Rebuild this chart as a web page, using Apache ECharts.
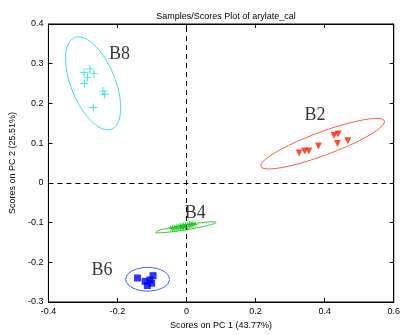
<!DOCTYPE html>
<html><head><meta charset="utf-8">
<script src="https://cdn.jsdelivr.net/npm/echarts@6/dist/echarts.min.js"></script>
<style>html,body{margin:0;padding:0;background:#fff}#c{width:403px;height:335px}</style>
</head><body><div id="c"></div>
<script>
// ---- data ----
const groupNames = ['B8', 'B2', 'B4', 'B6'];
const b8Points = [[-0.280,0.287],[-0.297,0.277],[-0.268,0.275],[-0.287,0.265],[-0.296,0.250],[-0.242,0.231],[-0.237,0.223],[-0.270,0.190]];
const b2Points = [[0.326,0.075],[0.342,0.080],[0.354,0.080],[0.382,0.093],[0.427,0.119],[0.439,0.123],[0.437,0.099],[0.467,0.106]];
const b4Points = [[-0.040,-0.115],[-0.028,-0.113],[-0.017,-0.111],[-0.003,-0.109],[0.009,-0.106],[0.019,-0.105],[-0.010,-0.110]];
const b6Points = [[-0.142,-0.2395],[-0.120,-0.248],[-0.106,-0.2445],[-0.097,-0.2336],[-0.1135,-0.2585],[-0.101,-0.2527]];
// confidence ellipses: centre and two conjugate half-axis vectors (data units)
const ellipseCenters = [[-0.2704,0.2505],[0.394,0.0986],[-0.0028,-0.112],[-0.1127,-0.2427]];
const ellipseAxisA  = [[0.0539,-0.1151],[0.1789,0.0573],[0.0887,0.01246],[0.0634,0]];
const ellipseAxisB  = [[-0.0588,-0.0216],[0.0113,-0.0277],[0.0011,-0.00615],[0,0.0299]];
const labelPositions = [[-0.194,0.3228],[0.372,0.170],[0.0254,-0.0758],[-0.245,-0.221]];
const xTicks = [-0.4,-0.2,0,0.2,0.4,0.6];
const yTicks = [-0.3,-0.2,-0.1,0,0.1,0.2,0.3,0.4];
const titleText = 'Samples/Scores Plot of arylate_cal';
const xName = 'Scores on PC 1 (43.77%)';
const yName = 'Scores on PC 2 (25.51%)';

// ---- styles ----
const markerColors = ['#00dede','#ff2200','#00c800','#0000ff'];
const ellipseColors = ['#3ddcdc','#ff5a40','#3cc83c','#3c5aff'];
const plusSym = 'path://M0,4.4H10V5.6H0Z M4.4,0H5.6V10H4.4Z';
const starSym = 'path://M0,4.4H10V5.6H0Z M4.4,0H5.6V10H4.4Z M1.2,2L2,1.2L8.8,8L8,8.8Z M8,1.2L8.8,2L2,8.8L1.2,8Z';

function ellipsePts(i){
  const pts=[]; const c=ellipseCenters[i], a=ellipseAxisA[i], b=ellipseAxisB[i];
  for(let k=0;k<=120;k++){const t=k/120*2*Math.PI;
    pts.push([c[0]+a[0]*Math.cos(t)+b[0]*Math.sin(t), c[1]+a[1]*Math.cos(t)+b[1]*Math.sin(t)]);}
  return pts;
}
const chart = echarts.init(document.getElementById('c'), null, {renderer:'canvas'});
const fontFam = 'Liberation Sans, Arial, sans-serif';
const axisCommon = {
  axisLine:{show:true,onZero:false,lineStyle:{color:'#000',width:1}},
  axisTick:{show:true,inside:true,length:4,lineStyle:{color:'#000'}},
  splitLine:{show:false}
};
const series = [];
const pointSets=[b8Points,b2Points,b4Points,b6Points];
const syms=[plusSym,'triangle',starSym,'rect'];
const sizes=[8,7,8,7];
for(let i=0;i<4;i++){
  series.push({type:'line',data:ellipsePts(i),showSymbol:false,symbol:'none',smooth:false,
    lineStyle:{color:ellipseColors[i],width:1},silent:true,z:2});
  series.push({type:'scatter',data:pointSets[i],symbol:syms[i],symbolSize:sizes[i],
    symbolRotate:i===1?180:0,itemStyle:{color:markerColors[i]},z:3,silent:true});
}
series.push({type:'scatter',data:labelPositions.map((p,i)=>({value:p,name:groupNames[i]})),symbolSize:0,silent:true,
  label:{show:true,position:'inside',formatter:p=>p.name,color:'#000',fontFamily:'Liberation Serif, Times New Roman, serif',fontSize:18},z:4});
series.push({type:'line',data:[],silent:true,markLine:{silent:true,symbol:'none',label:{show:false},
  lineStyle:{color:'#000',type:[5,4],width:1},data:[{xAxis:0},{yAxis:0}]}});

chart.setOption({
  backgroundColor:'#fff',
  animation:false,
  title:{text:titleText,left:221,top:7,textAlign:'center',textStyle:{fontSize:9,fontWeight:'normal',color:'#000',fontFamily:fontFam}},
  grid:{left:44,right:4,top:24,bottom:30,containLabel:false,show:true,borderColor:'#000',borderWidth:1,backgroundColor:'#fff'},
  xAxis:[
    Object.assign({},axisCommon,{type:'value',position:'bottom',min:xTicks[0],max:xTicks[xTicks.length-1],interval:0.2,
      name:xName,nameLocation:'middle',nameGap:19,nameTextStyle:{fontSize:9,color:'#000',fontFamily:fontFam},
      axisLabel:{fontSize:9,color:'#000',margin:5,fontFamily:fontFam}}),
    Object.assign({},axisCommon,{type:'value',position:'top',min:xTicks[0],max:xTicks[xTicks.length-1],interval:0.2,axisLabel:{show:false}})
  ],
  yAxis:[
    Object.assign({},axisCommon,{type:'value',position:'left',min:yTicks[0],max:yTicks[yTicks.length-1],interval:0.1,
      name:yName,nameLocation:'middle',nameGap:29,nameTextStyle:{fontSize:9,color:'#000',fontFamily:fontFam},
      axisLabel:{fontSize:9,color:'#000',margin:5,fontFamily:fontFam}}),
    Object.assign({},axisCommon,{type:'value',position:'right',min:yTicks[0],max:yTicks[yTicks.length-1],interval:0.1,axisLabel:{show:false}})
  ],
  series:series
});
</script></body></html>
